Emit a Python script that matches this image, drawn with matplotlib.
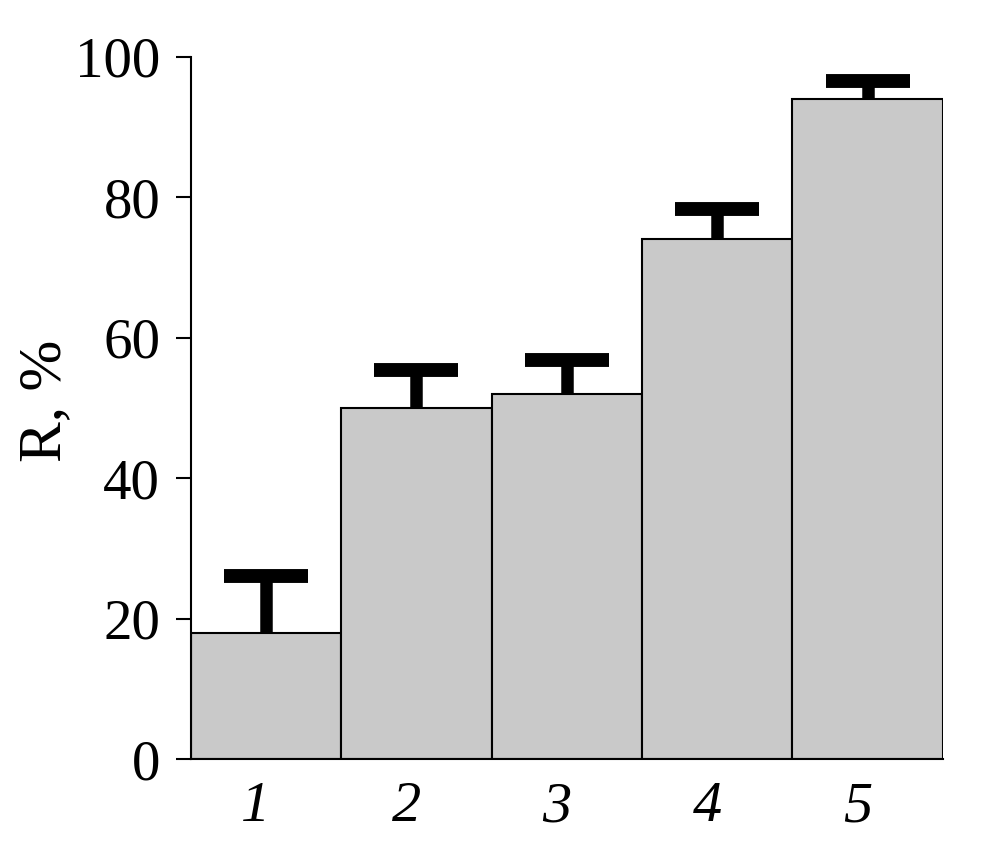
import matplotlib
matplotlib.use("Agg")
from matplotlib import pyplot as plt
import matplotlib.transforms as mtransforms

# Data
samples = ["1", "2", "3", "4", "5"]
r_values = [18, 50, 52, 74, 94]
r_errors = [8.1, 5.4, 4.8, 4.3, 2.6]
y_ticks = [0, 20, 40, 60, 80, 100]

plt.rcParams["font.family"] = ["Liberation Serif", "DejaVu Serif"]

fig = plt.figure(figsize=(10.04, 8.49), dpi=100)
ax = fig.add_axes([0.190, 0.106, 0.749, 0.827])

positions = list(range(1, len(samples) + 1))
tops = [v + e for v, e in zip(r_values, r_errors)]

ax.bar(positions, r_values, width=1.0, color="#c9c9c9", edgecolor="black",
       linewidth=1.5, zorder=2)
# upper-only error bars: thick stem plus a thick cap
ax.vlines(positions, r_values, tops, colors="black", linewidth=9, zorder=3)
ax.plot(positions, tops, linestyle="none", marker="_", markersize=61,
        markeredgewidth=10, color="black", zorder=3)

ax.set_xlim(0.5, len(samples) + 0.5)
ax.set_ylim(0, 100)
ax.set_yticks(y_ticks)
ax.set_xticks(positions)
ax.set_xticklabels(samples, fontsize=42, style="italic")
ax.tick_params(axis="x", length=0, pad=16)
ax.tick_params(axis="y", length=11, width=1.5, pad=11, labelsize=41)

# italic labels sit a little left of the bar centres in the reference
offset = mtransforms.ScaledTranslation(-10 / 100, 0, fig.dpi_scale_trans)
for lbl in ax.get_xticklabels():
    lbl.set_transform(lbl.get_transform() + offset)

ax.set_ylabel("R, %", fontsize=44, va="center")
ax.yaxis.set_label_coords(-0.193, 0.51)

for side in ["top", "right"]:
    ax.spines[side].set_visible(False)
for side in ["left", "bottom"]:
    ax.spines[side].set_linewidth(1.5)

fig.savefig("out.png", dpi=100)
